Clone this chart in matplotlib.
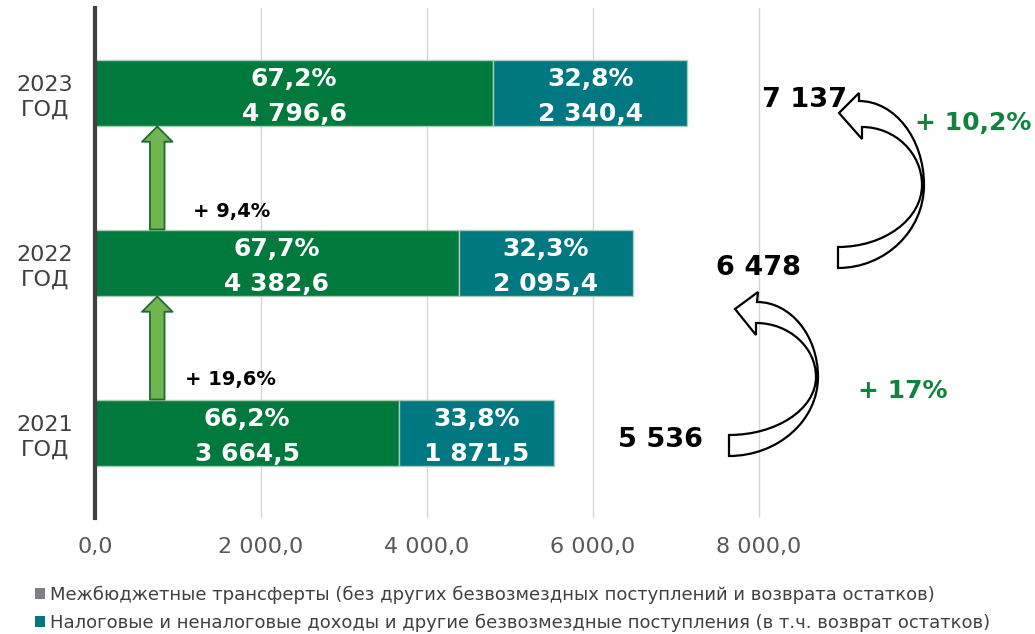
import matplotlib
matplotlib.use("Agg")
import matplotlib.pyplot as plt
from matplotlib.patches import Patch, PathPatch
from matplotlib.path import Path
from matplotlib.transforms import Affine2D, offset_copy

# ---------------- data ----------------
categories = ['2021\nГОД', '2022\nГОД', '2023\nГОД']
transfers = [3664.5, 4382.6, 4796.6]          # Межбюджетные трансферты
own_income = [1871.5, 2095.4, 2340.4]         # Налоговые и неналоговые доходы ...
transfers_share = ['66,2%', '67,7%', '67,2%']
own_share = ['33,8%', '32,3%', '32,8%']
totals = ['5 536', '6 478', '7 137']
total_growth = ['+ 17%', '+ 10,2%']
transfer_growth = ['+ 19,6%', '+ 9,4%']
xticks = [0, 2000, 4000, 6000, 8000]
legend_labels = ['Межбюджетные трансферты (без других безвозмездных поступлений и возврата остатков)',
                 'Налоговые и неналоговые доходы и другие безвозмездные поступления (в т.ч. возврат остатков)']

# ---------------- style ----------------
W, H = 1035, 634
GREEN = '#00793c'
TEAL = '#007882'
EDGE = '#a8cdb9'
TXT = '#404040'
GROWTH_GREEN = '#128241'

plt.rcParams['font.family'] = ['DejaVu Sans']


def fmt(v):
    return f"{v:,.1f}".replace(',', ' ').replace('.', ',')


fig = plt.figure(figsize=(W / 100, H / 100), dpi=100)
ax = fig.add_axes([95 / W, 1 - 518 / H, 747 / W, 510 / H])

ypos = list(range(len(categories)))
bh = 0.394
ax.barh(ypos, transfers, height=bh, color=GREEN, edgecolor=EDGE, linewidth=1, zorder=3)
ax.barh(ypos, own_income, left=transfers, height=bh, color=TEAL, edgecolor=EDGE, linewidth=1, zorder=3)

ax.set_xlim(0, 9000)
ax.set_ylim(-0.5, 2.5)
ax.set_xticks(xticks)
ax.set_xticklabels([fmt(v) for v in xticks], fontsize=16, color='#595959')
ax.set_yticks(ypos)
ax.set_yticklabels(categories, fontsize=16, color=TXT, ha='center', linespacing=1.3)
ax.tick_params(axis='x', length=0, pad=14)
ax.tick_params(axis='y', length=0, pad=36)
ax.grid(axis='x', color='#d6d6d6', linewidth=1, zorder=0)
ax.grid(axis='y', visible=False)
for s in ['top', 'right', 'bottom']:
    ax.spines[s].set_visible(False)
ax.spines['left'].set_color('#404040')
ax.spines['left'].set_linewidth(3)
ax.spines['left'].set_zorder(5)

# labels in bars (two lines, offset in pixels from bar centre)
for i in ypos:
    segs = [(transfers[i] / 2, transfers_share[i], fmt(transfers[i])),
            (transfers[i] + own_income[i] / 2, own_share[i], fmt(own_income[i]))]
    for xc, l1, l2 in segs:
        t1 = offset_copy(ax.transData, fig=fig, x=0, y=6.5, units='dots')
        t2 = offset_copy(ax.transData, fig=fig, x=0, y=-28, units='dots')
        ax.text(xc, i, l1, transform=t1, ha='center', va='baseline', color='white',
                fontsize=18, fontweight='bold', zorder=6)
        ax.text(xc, i, l2, transform=t2, ha='center', va='baseline', color='white',
                fontsize=18, fontweight='bold', zorder=6)

# green up arrows between the transfer bars
for i in range(len(ypos) - 1):
    ax.annotate('', xy=(750, ypos[i + 1] - bh / 2), xytext=(750, ypos[i] + bh / 2),
                arrowprops=dict(arrowstyle='simple,head_width=22,head_length=11,tail_width=10.5',
                                mutation_scale=1, fc='#70b550', ec='#1f6b33', lw=1.3,
                                shrinkA=0, shrinkB=0), zorder=4)

# ---------------- overlay annotations (pixel layout) ----------------
pix = Affine2D().scale(1, -1).translate(0, H)  # image pixels (y down) -> display


def ptext(x, y, s, **kw):
    fig.text(x / W, 1 - y / H, s, ha='center', va='baseline', **kw)


growth_pos = [(230, 385), (232, 217)]
for (x, y), s in zip(growth_pos, transfer_growth):
    ptext(x, y, s, fontsize=14, fontweight='bold', color='black')

total_pos = [(660, 447), (758, 275), (804, 107)]
for (x, y), s in zip(total_pos, totals):
    ptext(x, y, s, fontsize=19.5, fontweight='bold', color='black')

tgrowth_pos = [(903, 398), (973, 130)]
for (x, y), s in zip(tgrowth_pos, total_growth):
    ptext(x, y, s, fontsize=18, fontweight='bold', color=GROWTH_GREEN)


def curved_arrow(tip, oc, on, ro, tb, tt, ri, inn, ic, k=0.55):
    verts = [tip, oc, on]
    codes = [Path.MOVETO, Path.LINETO, Path.LINETO]
    verts += [(on[0] + k * (ro[0] - on[0]), on[1]), (ro[0], ro[1] - k * (ro[1] - on[1])), ro]
    codes += [Path.CURVE4] * 3
    verts += [(ro[0], ro[1] + k * (tb[1] - ro[1])), (tb[0] + k * (ro[0] - tb[0]), tb[1]), tb]
    codes += [Path.CURVE4] * 3
    verts += [tt]
    codes += [Path.LINETO]
    verts += [(tt[0] + k * (ri[0] - tt[0]), tt[1]), (ri[0], ri[1] + k * (tt[1] - ri[1])), ri]
    codes += [Path.CURVE4] * 3
    verts += [(ri[0], ri[1] - k * (ri[1] - inn[1])), (inn[0] + k * (ri[0] - inn[0]), inn[1]), inn]
    codes += [Path.CURVE4] * 3
    verts += [ic, tip]
    codes += [Path.LINETO, Path.CLOSEPOLY]
    p = PathPatch(Path(verts, codes), transform=pix, facecolor='none',
                  edgecolor='black', linewidth=1.6, joinstyle='miter')
    fig.add_artist(p)


curved_arrow(tip=(735, 309), oc=(758, 292), on=(757, 302), ro=(818, 377),
             tb=(729, 456), tt=(729, 435), ri=(816, 377), inn=(756, 323), ic=(756, 335))
curved_arrow(tip=(839, 113), oc=(859, 93), on=(859, 101), ro=(924, 185),
             tb=(838, 268), tt=(838, 247), ri=(922, 185), inn=(862, 127), ic=(862, 139))

# ---------------- legend ----------------
handles = [Patch(facecolor='#7f7f86'), Patch(facecolor=TEAL)]
leg = fig.legend(handles, legend_labels, loc='upper left',
                 bbox_to_anchor=(35 / W, 1 - 586 / H), frameon=False, fontsize=13,
                 handlelength=0.55, handleheight=0.55, handletextpad=0.3,
                 labelspacing=0.5, borderpad=0, borderaxespad=0)
for t in leg.get_texts():
    t.set_color(TXT)

fig.savefig('out.png', dpi=100)
